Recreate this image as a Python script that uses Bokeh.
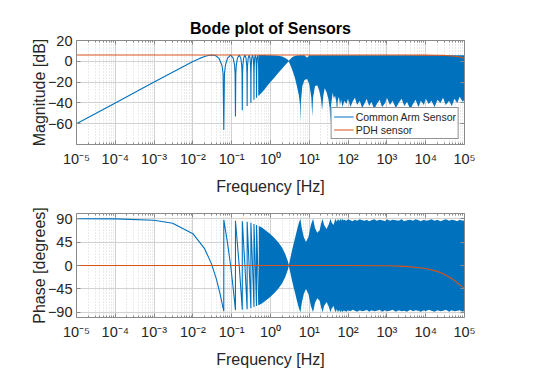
from bokeh.plotting import figure
from bokeh.models import (FixedTicker, CustomJSTickFormatter, LogAxis, LinearAxis, Range1d)
from bokeh.layouts import column
from bokeh.embed import file_html
from bokeh.resources import INLINE

BLUE = "#0072BD"
ORANGE = "#D95319"
FRAME = "#8a8a8a"
TXT = "#262626"
FONT = "Liberation Sans"

# ---------------- data ----------------
x_ticks = [1e-5, 1e-4, 1e-3, 1e-2, 1e-1, 1e0, 1e1, 1e2, 1e3, 1e4, 1e5]
mag_ticks = [-60, -40, -20, 0, 20]
phase_ticks = [-90, -45, 0, 45, 90]

# Common Arm Sensor - resolved part of magnitude (Hz, dB)
mag_f = [1e-5, 1e-4, 1e-3, 3e-3, 0.01, 0.015, 0.02, 0.025, 0.031, 0.038,
         0.0469, 0.0563, 0.06, 0.0625, 0.065, 0.0688, 0.0781, 0.0938,
         0.1094, 0.1188, 0.1225, 0.125, 0.1275, 0.1313, 0.1406, 0.1563,
         0.1719, 0.1813, 0.185, 0.1875, 0.19, 0.1938, 0.2031, 0.2188,
         0.2344, 0.2438, 0.2475, 0.25, 0.2525, 0.2563, 0.2656, 0.2813,
         0.2969, 0.3063, 0.31, 0.3125, 0.315, 0.3188, 0.3281, 0.3438,
         0.3594, 0.3688, 0.3725, 0.375, 0.3775, 0.3813, 0.3906, 0.4063,
         0.4219, 0.4313, 0.435, 0.4375, 0.44, 0.4438, 0.4531, 0.4688,
         0.4844, 0.4938, 0.4975, 0.5]
mag_db = [-60, -40, -20, -10.5, -0.3, 2.8, 4.6, 5.6, 6.0, 5.6,
          3, -4, -12, -66, -12, -4, 3, 6,
          3, -4, -12, -53, -12, -4, 3, 6,
          3, -4, -12, -47, -12, -4, 3, 6,
          3, -4, -12, -43, -12, -4, 3, 6,
          3, -4, -12, -40, -12, -4, 3, 6,
          3, -4, -12, -37, -12, -4, 3, 6,
          3, -4, -12, -35, -12, -4, 3, 6,
          3, -4, -12, -33]

# Common Arm Sensor - densely oscillating part of magnitude (Hz, lower dB, upper dB)
mag_band = [
    (0.5, -33, 6), (0.6, -30, 6), (0.7, -27, 6), (0.85, -23, 5.9), (1.0, -20, 5.8),
    (1.3, -15, 5.6), (1.6, -11, 5.3), (2.0, -7, 4.6), (2.4, -3.5, 3.2), (2.8, -1, 1.5),
    (2.97, -0.2, 0.3), (3.2, -3, 2), (3.6, -8, 3.8), (4.2, -15, 5), (4.8, -24, 5.6),
    (5.4, -33, 5.8), (5.75, -42, 5.8), (5.9, -58, 5.8), (6.05, -40, 5.8), (6.6, -24, 5.8),
    (7.5, -18, 5.8), (8.8, -17, 3.5), (10, -22, 5.8), (11.3, -35, 5.8), (11.9, -53, 5.8),
    (12.5, -35, 5.8), (14, -24, 5.8), (16, -23, 5.8), (18, -28, 5.8), (20, -36, 5.8),
    (21.4, -47, 5.8), (23, -33, 5.8), (25, -26, 5.8), (28, -30, 5.8), (31, -36, 5.8),
    (33.5, -45, 5.8), (35, -61, 5.8), (36.5, -42, 5.8), (40, -30, 5.8), (43, -36, 5.8),
    (46, -33, 5.8), (50, -40, 5.8), (52, -51, 5.8), (54, -38, 5.8), (58, -34, 5.8),
    (62, -42, 5.8), (66, -37, 5.8), (72, -44, 5.8), (80, -38, 5.8), (90, -41, 5.8),
    (100, -36, 5.8), (115, -44, 5.8), (130, -39, 5.8), (150, -35, 5.8), (170, -42, 5.8),
    (200, -38, 5.8), (230, -45, 5.8), (270, -40, 5.8), (300, -36, 5.8), (350, -43, 5.8),
    (400, -39, 5.8), (470, -46, 5.8), (550, -41, 5.8), (650, -37, 5.8), (750, -44, 5.8),
    (900, -40, 5.8), (1000, -35, 5.8), (1200, -42, 5.8), (1400, -38, 5.8), (1700, -45, 5.8),
    (2000, -40, 5.8), (2400, -36, 5.8), (2800, -43, 5.8), (3300, -39, 5.8), (4000, -46, 5.8),
    (4700, -41, 5.8), (5500, -37, 5.8), (6500, -44, 5.8), (7500, -38, 5.8), (9000, -42, 5.8),
    (1e4, -36, 5.8), (1.2e4, -41, 5.8), (1.4e4, -38, 5.8), (1.7e4, -44, 5.8), (2e4, -37, 5.8),
    (2.4e4, -40, 5.8), (2.8e4, -35, 5.8), (3.3e4, -42, 5.8), (4e4, -38, 5.8), (4.7e4, -43, 5.8),
    (5.5e4, -36, 5.8), (6.5e4, -40, 5.8), (7.5e4, -34, 5.8), (9e4, -39, 5.8), (1e5, -37, 5.8),
]

# Common Arm Sensor - resolved part of phase (Hz, degrees)
phase_f = [1e-5, 1e-4, 1e-3, 3e-3, 0.01, 0.02, 0.03, 0.04, 0.05, 0.0625,
           0.0626, 0.078, 0.094, 0.11, 0.125,
           0.1251, 0.156, 0.1875,
           0.1876, 0.219, 0.25,
           0.2501, 0.281, 0.3125,
           0.3126, 0.344, 0.375,
           0.3751, 0.406, 0.4375,
           0.4376, 0.469, 0.5]
phase_deg = [90, 89.7, 87.1, 81.4, 61.2, 32.4, 3.6, -25.2, -54, -88,
             88, 43, 0, -46, -86,
             86, 0, -85,
             85, 0, -84,
             84, 0, -82,
             82, 0, -80,
             80, 0, -78,
             78, 0, -76]

# Common Arm Sensor - densely oscillating part of phase (Hz, upper deg, lower deg)
phase_band = [
    (0.5, 76, -76), (0.6, 73, -73), (0.8, 66, -66), (1.0, 60, -60), (1.3, 52, -52),
    (1.6, 44, -44), (2.0, 34, -34), (2.4, 22, -22), (2.8, 8, -8), (2.97, 1, -1),
    (3.2, 12, -12), (3.6, 30, -30), (4.2, 50, -50), (4.8, 68, -68), (5.4, 82, -82),
    (5.9, 90, -90), (6.4, 72, -72), (7.2, 55, -55), (8.2, 45, -45), (9.5, 55, -55),
    (11, 78, -78), (12.5, 90, -90), (14, 72, -72), (16, 63, -63), (18.5, 68, -68),
    (20, 80, -80), (22, 90, -90), (24, 78, -78), (28, 70, -70), (32, 80, -80),
    (35, 90, -90), (38, 82, -82), (42, 78, -78), (47, 90, -90), (51, 84, -84),
    (55, 90, -90), (59, 85, -85), (63, 90, -90), (67, 86, -86), (70, 90, -90),
    (75, 87, -87), (80, 88, -87), (90, 86, -89), (100, 89, -86), (115, 87, -88),
    (130, 85, -85), (150, 88, -87), (170, 86, -89), (200, 89, -86), (230, 87, -88),
    (270, 86, -87), (300, 88, -85), (350, 85, -89), (400, 87, -86), (470, 89, -88),
    (550, 86, -87), (650, 88, -85), (750, 87, -89), (900, 85, -86), (1000, 89, -88),
    (1200, 86, -87), (1400, 88, -85), (1700, 87, -89), (2000, 86, -86), (2400, 89, -88),
    (2800, 85, -87), (3300, 87, -89), (4000, 88, -85), (4700, 86, -88), (5500, 89, -86),
    (6500, 87, -87), (7500, 85, -89), (9000, 88, -86), (1e4, 86, -88), (1.2e4, 87, -85),
    (1.4e4, 89, -87), (1.7e4, 86, -89), (2e4, 88, -86), (2.4e4, 85, -88), (2.8e4, 87, -87),
    (3.3e4, 89, -85), (4e4, 86, -89), (4.7e4, 88, -86), (5.5e4, 87, -88), (6.5e4, 85, -87),
    (7.5e4, 88, -86), (9e4, 86, -89), (1e5, 87, -87),
]

# PDH sensor
pdh_f = [1e-5, 1e2, 1e3, 3e3, 1e4, 2e4, 3e4, 5e4, 7e4, 1e5]
pdh_db = [6.02, 6.02, 6.02, 6.01, 5.98, 5.85, 5.65, 5.05, 4.3, 3.0]
pdh_deg = [0, 0, -0.6, -1.7, -5.7, -11.3, -16.7, -26.6, -35, -45]

# ---------------- helpers ----------------
minor_x = [m * 10.0 ** e for e in range(-5, 5) for m in range(2, 10)]
SUP = ("const s={'-':'\u207b','0':'\u2070','1':'\u00b9','2':'\u00b2','3':'\u00b3',"
       "'4':'\u2074','5':'\u2075','6':'\u2076','7':'\u2077','8':'\u2078','9':'\u2079'};"
       "const e=Math.round(Math.log10(tick));"
       "return '10'+String(e).split('').map(c=>s[c]).join('');")


def style_axis(ax):
    ax.axis_line_color = FRAME
    ax.major_tick_line_color = FRAME
    ax.minor_tick_line_color = FRAME
    ax.major_tick_in = 4
    ax.major_tick_out = 0
    ax.minor_tick_in = 2
    ax.minor_tick_out = 0
    ax.major_label_text_font = FONT
    ax.major_label_text_font_size = "14.5px"
    ax.major_label_text_color = TXT
    ax.axis_label_text_font = FONT
    ax.axis_label_text_font_size = "16px"
    ax.axis_label_text_font_style = "normal"
    ax.axis_label_text_color = TXT


def make_fig(height, btop, bbottom, yrange, yticks, ylabel):
    xt = FixedTicker(ticks=x_ticks, minor_ticks=minor_x)
    yt = FixedTicker(ticks=yticks, minor_ticks=[])
    p = figure(width=540, height=height, x_axis_type="log",
               x_range=Range1d(1e-5, 1e5), y_range=Range1d(*yrange),
               output_backend="svg", toolbar_location=None,
               min_border_left=76, min_border_right=76,
               min_border_top=btop, min_border_bottom=bbottom)
    p.outline_line_color = None
    p.background_fill_color = "white"
    p.border_fill_color = "white"
    p.xaxis.ticker = xt
    p.yaxis.ticker = yt
    p.xaxis.formatter = CustomJSTickFormatter(code=SUP)
    p.xaxis.axis_label = "Frequency [Hz]"
    p.yaxis.axis_label = ylabel
    p.xaxis.major_label_standoff = 6
    p.xaxis.axis_label_standoff = 8
    p.yaxis.major_label_standoff = 4
    p.yaxis.axis_label_standoff = -3
    style_axis(p.xaxis[0])
    style_axis(p.yaxis[0])
    empty = CustomJSTickFormatter(code="return ''")
    top_ax = LogAxis(ticker=xt, formatter=empty, major_label_standoff=0)
    right_ax = LinearAxis(ticker=yt, formatter=empty, major_label_standoff=0)
    style_axis(top_ax)
    style_axis(right_ax)
    p.add_layout(top_ax, "above")
    p.add_layout(right_ax, "right")
    p.xgrid.grid_line_color = "#d2d2d2"
    p.xgrid.minor_grid_line_color = "#d6d6d6"
    p.xgrid.minor_grid_line_dash = "1 2"
    p.ygrid.grid_line_color = "#d2d2d2"
    return p


# ---------------- magnitude ----------------
p1 = make_fig(200, 40, 56, (-80, 20), mag_ticks, "Magnitude [dB]")
p1.title.text = "Bode plot of Sensors"
p1.title.align = "center"
p1.title.text_font = FONT
p1.title.text_font_size = "16px"
p1.title.text_font_style = "bold"
p1.title.text_color = "black"
p1.title.standoff = 7

bf = [r[0] for r in mag_band]
blo = [r[1] for r in mag_band]
bhi = [r[2] for r in mag_band]
p1.varea(x=bf, y1=blo, y2=bhi, fill_color=BLUE)
p1.line(mag_f, mag_db, line_color=BLUE, line_width=1.1, legend_label="Common Arm Sensor")
p1.line(pdh_f, pdh_db, line_color=ORANGE, line_width=1.1, legend_label="PDH sensor")

lg = p1.legend[0]
lg.location = "bottom_right"
lg.label_text_font = FONT
lg.label_text_font_size = "10.5px"
lg.label_text_color = TXT
lg.glyph_width = 20
lg.glyph_height = 13
lg.label_height = 13
lg.label_standoff = 2
lg.padding = 2
lg.spacing = 0
lg.margin = 5
lg.border_line_color = "#262626"
lg.border_line_width = 0.7
lg.background_fill_color = "white"
lg.background_fill_alpha = 1.0

# ---------------- phase ----------------
p2 = make_fig(182, 13, 65, (-100, 100), phase_ticks, "Phase [degrees]")
pf = [r[0] for r in phase_band]
phi = [r[1] for r in phase_band]
plo = [r[2] for r in phase_band]
p2.varea(x=pf, y1=plo, y2=phi, fill_color=BLUE)
p2.line(phase_f, phase_deg, line_color=BLUE, line_width=1.1)
p2.line(pdh_f, pdh_deg, line_color=ORANGE, line_width=1.1)

layout = column(p1, p2, spacing=0)
open("out.html", "w").write(file_html(layout, INLINE))
